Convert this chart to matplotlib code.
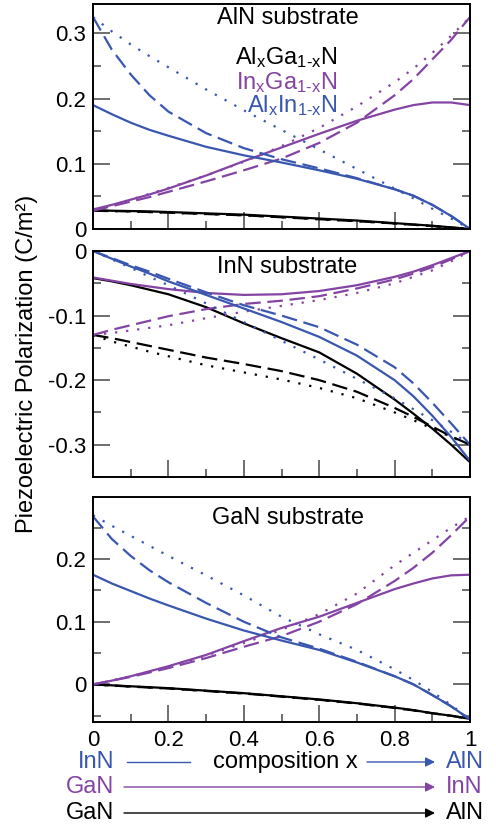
import matplotlib.pyplot as plt
from matplotlib.ticker import MultipleLocator

plt.rcParams['font.family'] = ['Liberation Sans', 'DejaVu Sans']
plt.rcParams['mathtext.fontset'] = 'custom'
plt.rcParams['mathtext.rm'] = 'Liberation Sans'
plt.rcParams['mathtext.it'] = 'Liberation Sans:italic'

BLUE = '#3a57b0'
PURPLE = '#8444a4'
BLACK = 'black'

# composition x
x = [0, 0.05, 0.1, 0.15, 0.2, 0.3, 0.4, 0.5, 0.6, 0.7, 0.8, 0.85, 0.9, 0.95, 1]

# --- AlN substrate ---
aln_algan_solid = [0.029, 0.028, 0.0275, 0.027, 0.026, 0.024, 0.022, 0.019, 0.016, 0.013, 0.009, 0.007, 0.005, 0.0025, 0]
aln_algan_dashed = [0.028, 0.0275, 0.027, 0.026, 0.025, 0.023, 0.021, 0.018, 0.015, 0.012, 0.0085, 0.0065, 0.0045, 0.0022, 0]
aln_algan_dotted = [0.028, 0.0275, 0.027, 0.026, 0.025, 0.023, 0.021, 0.018, 0.015, 0.012, 0.0085, 0.0065, 0.0045, 0.0022, 0]
aln_ingan_solid = [0.03, 0.037, 0.045, 0.053, 0.062, 0.082, 0.104, 0.125, 0.146, 0.166, 0.183, 0.19, 0.194, 0.194, 0.19]
aln_ingan_dashed = [0.028, 0.035, 0.042, 0.049, 0.057, 0.073, 0.09, 0.108, 0.132, 0.163, 0.205, 0.23, 0.26, 0.29, 0.325]
aln_ingan_dotted = [0.028, 0.036, 0.045, 0.054, 0.063, 0.082, 0.103, 0.127, 0.155, 0.188, 0.225, 0.246, 0.27, 0.296, 0.325]
aln_alinn_solid = [0.19, 0.176, 0.163, 0.152, 0.143, 0.126, 0.113, 0.102, 0.09, 0.077, 0.061, 0.051, 0.037, 0.02, 0]
aln_alinn_dashed = [0.325, 0.275, 0.237, 0.205, 0.18, 0.147, 0.124, 0.107, 0.093, 0.078, 0.061, 0.051, 0.037, 0.02, 0]
aln_alinn_dotted = [0.325, 0.303, 0.283, 0.265, 0.248, 0.214, 0.182, 0.152, 0.122, 0.092, 0.062, 0.047, 0.031, 0.016, 0]

# --- InN substrate ---
inn_algan_solid = [-0.042, -0.047, -0.053, -0.06, -0.067, -0.087, -0.112, -0.135, -0.157, -0.19, -0.23, -0.252, -0.275, -0.3, -0.327]
inn_algan_dashed = [-0.13, -0.135, -0.141, -0.147, -0.153, -0.165, -0.175, -0.186, -0.2, -0.218, -0.243, -0.257, -0.272, -0.287, -0.30]
inn_algan_dotted = [-0.13, -0.14, -0.148, -0.156, -0.163, -0.177, -0.188, -0.199, -0.212, -0.228, -0.25, -0.262, -0.275, -0.288, -0.30]
inn_ingan_solid = [-0.041, -0.046, -0.051, -0.055, -0.059, -0.065, -0.068, -0.067, -0.062, -0.053, -0.04, -0.032, -0.022, -0.011, 0]
inn_ingan_dashed = [-0.13, -0.122, -0.115, -0.108, -0.101, -0.09, -0.082, -0.077, -0.07, -0.058, -0.044, -0.035, -0.025, -0.013, 0]
inn_ingan_dotted = [-0.13, -0.127, -0.123, -0.119, -0.115, -0.104, -0.094, -0.085, -0.076, -0.065, -0.05, -0.04, -0.03, -0.016, 0]
inn_alinn_solid = [0, -0.012, -0.024, -0.035, -0.047, -0.068, -0.089, -0.11, -0.133, -0.162, -0.2, -0.225, -0.255, -0.288, -0.325]
inn_alinn_dashed = [0, -0.011, -0.022, -0.032, -0.043, -0.064, -0.084, -0.1, -0.118, -0.145, -0.18, -0.205, -0.235, -0.267, -0.30]
inn_alinn_dotted = [0, -0.013, -0.026, -0.04, -0.053, -0.081, -0.11, -0.139, -0.168, -0.198, -0.228, -0.245, -0.262, -0.28, -0.30]

# --- GaN substrate ---
gan_algan_solid = [0, -0.0015, -0.003, -0.0045, -0.006, -0.01, -0.014, -0.019, -0.024, -0.03, -0.037, -0.041, -0.046, -0.05, -0.055]
gan_algan_dashed = [0, -0.0018, -0.0035, -0.005, -0.0065, -0.0105, -0.0145, -0.0195, -0.0245, -0.0305, -0.0375, -0.0415, -0.046, -0.05, -0.055]
gan_algan_dotted = [0, -0.0018, -0.0035, -0.005, -0.0065, -0.0105, -0.0145, -0.0195, -0.0245, -0.0305, -0.0375, -0.0415, -0.046, -0.05, -0.055]
gan_ingan_solid = [0, 0.006, 0.013, 0.021, 0.029, 0.047, 0.069, 0.09, 0.108, 0.13, 0.152, 0.161, 0.169, 0.174, 0.175]
gan_ingan_dashed = [0, 0.006, 0.012, 0.019, 0.026, 0.042, 0.06, 0.077, 0.1, 0.128, 0.165, 0.186, 0.21, 0.238, 0.268]
gan_ingan_dotted = [0, 0.006, 0.013, 0.02, 0.028, 0.046, 0.066, 0.087, 0.112, 0.145, 0.19, 0.21, 0.23, 0.25, 0.268]
gan_alinn_solid = [0.175, 0.161, 0.149, 0.137, 0.126, 0.105, 0.086, 0.07, 0.055, 0.035, 0.013, 0.0, -0.017, -0.035, -0.056]
gan_alinn_dashed = [0.268, 0.232, 0.205, 0.182, 0.163, 0.13, 0.1, 0.075, 0.057, 0.036, 0.013, 0.0, -0.017, -0.035, -0.056]
gan_alinn_dotted = [0.27, 0.253, 0.237, 0.221, 0.205, 0.174, 0.142, 0.108, 0.08, 0.055, 0.024, 0.007, -0.012, -0.033, -0.056]

panel_titles = ['AlN substrate', 'InN substrate', 'GaN substrate']
legend_labels = ['Al$_\\mathregular{x}$Ga$_\\mathregular{1\u2010x}$N',
                 'In$_\\mathregular{x}$Ga$_\\mathregular{1\u2010x}$N',
                 'Al$_\\mathregular{x}$In$_\\mathregular{1\u2010x}$N']

DASH = (0, (7, 3))
DOT = (0, (1, 4))
LW = 1.6
FS_TICK = 16
FS = 17

W, H = 496, 826
fig = plt.figure(figsize=(W / 100, H / 100), dpi=100)

def axes_px(top, bottom, left=93, right=470):
    return fig.add_axes([left / W, 1 - bottom / H, (right - left) / W, (bottom - top) / H])

ax1 = axes_px(4, 229)
ax2 = axes_px(251, 477)
ax3 = axes_px(497, 722)

panels = [
    (ax1, (0, 0.345), [aln_algan_solid, aln_algan_dashed, aln_algan_dotted,
                       aln_ingan_solid, aln_ingan_dashed, aln_ingan_dotted,
                       aln_alinn_solid, aln_alinn_dashed, aln_alinn_dotted]),
    (ax2, (-0.35, 0), [inn_algan_solid, inn_algan_dashed, inn_algan_dotted,
                       inn_ingan_solid, inn_ingan_dashed, inn_ingan_dotted,
                       inn_alinn_solid, inn_alinn_dashed, inn_alinn_dotted]),
    (ax3, (-0.06, 0.299), [gan_algan_solid, gan_algan_dashed, gan_algan_dotted,
                           gan_ingan_solid, gan_ingan_dashed, gan_ingan_dotted,
                           gan_alinn_solid, gan_alinn_dashed, gan_alinn_dotted]),
]

colors = [BLACK, PURPLE, BLUE]
styles = ['-', DASH, DOT]
title_y = [0.938, 0.931, 0.905]

for k, (ax, ylim, series) in enumerate(panels):
    for i, col in enumerate(colors):
        for j, ls in enumerate(styles):
            ax.plot(x, series[3 * i + j], color=col, ls=ls, lw=LW,
                    solid_capstyle='butt', dash_capstyle='butt')
    ax.set_xlim(0, 1)
    ax.set_ylim(*ylim)
    ax.xaxis.set_major_locator(MultipleLocator(0.2))
    ax.xaxis.set_minor_locator(MultipleLocator(0.1))
    ax.yaxis.set_major_locator(MultipleLocator(0.1))
    ax.yaxis.set_minor_locator(MultipleLocator(0.05))
    ax.tick_params(which='both', direction='in', right=True, top=False,
                   color='#555555', width=1.2, labelsize=FS_TICK)
    ax.tick_params(which='major', length=12, pad=5)
    ax.tick_params(which='minor', length=6)
    ax.tick_params(axis='x', which='major', pad=6)
    ax.yaxis.set_major_formatter(plt.FuncFormatter(
        lambda v, p: '0' if abs(v) < 1e-9 else '%.1f' % v))
    for s in ax.spines.values():
        s.set_linewidth(1.4)
    ax.text(0.516, title_y[k], panel_titles[k], transform=ax.transAxes,
            ha='center', va='center', fontsize=FS)
    if ax is not ax3:
        ax.tick_params(axis='x', labelbottom=False)

ax3.xaxis.set_major_formatter(plt.FuncFormatter(
    lambda v, p: '%g' % round(v, 1)))

for lab, col, yy in zip(legend_labels, colors, [0.76, 0.653, 0.547]):
    ax1.text(0.648, yy, lab, transform=ax1.transAxes, ha='right', va='center',
             fontsize=FS, color=col)

fig.text(27 / W, 1 - 364 / H, 'Piezoelectric Polarization (C/m²)', rotation=90,
         ha='center', va='center', fontsize=FS)

# composition arrows below the bottom panel
rows = [(64, BLUE, 'InN', 'AlN'), (39, PURPLE, 'GaN', 'InN'), (13, BLACK, 'GaN', 'AlN')]
for yp, col, left_lab, right_lab in rows:
    fig.text(114 / W, yp / H, left_lab, ha='right', va='center', color=col, fontsize=FS)
    fig.text(446 / W, yp / H, right_lab, ha='left', va='center', color=col, fontsize=FS)
    start = 367 if col == BLUE else 124
    fig.add_artist(plt.matplotlib.patches.FancyArrowPatch(
        (start / W, yp / H), (435 / W, yp / H), transform=fig.transFigure,
        arrowstyle='-|>', mutation_scale=14, color=col, lw=1, shrinkA=0, shrinkB=0))
fig.add_artist(plt.Line2D([127 / W, 190 / W], [64 / H, 64 / H], color=BLUE, lw=1,
                          transform=fig.transFigure))
fig.text(285 / W, 64 / H, 'composition x', ha='center', va='center', fontsize=FS)

fig.savefig('out.png', dpi=100)
